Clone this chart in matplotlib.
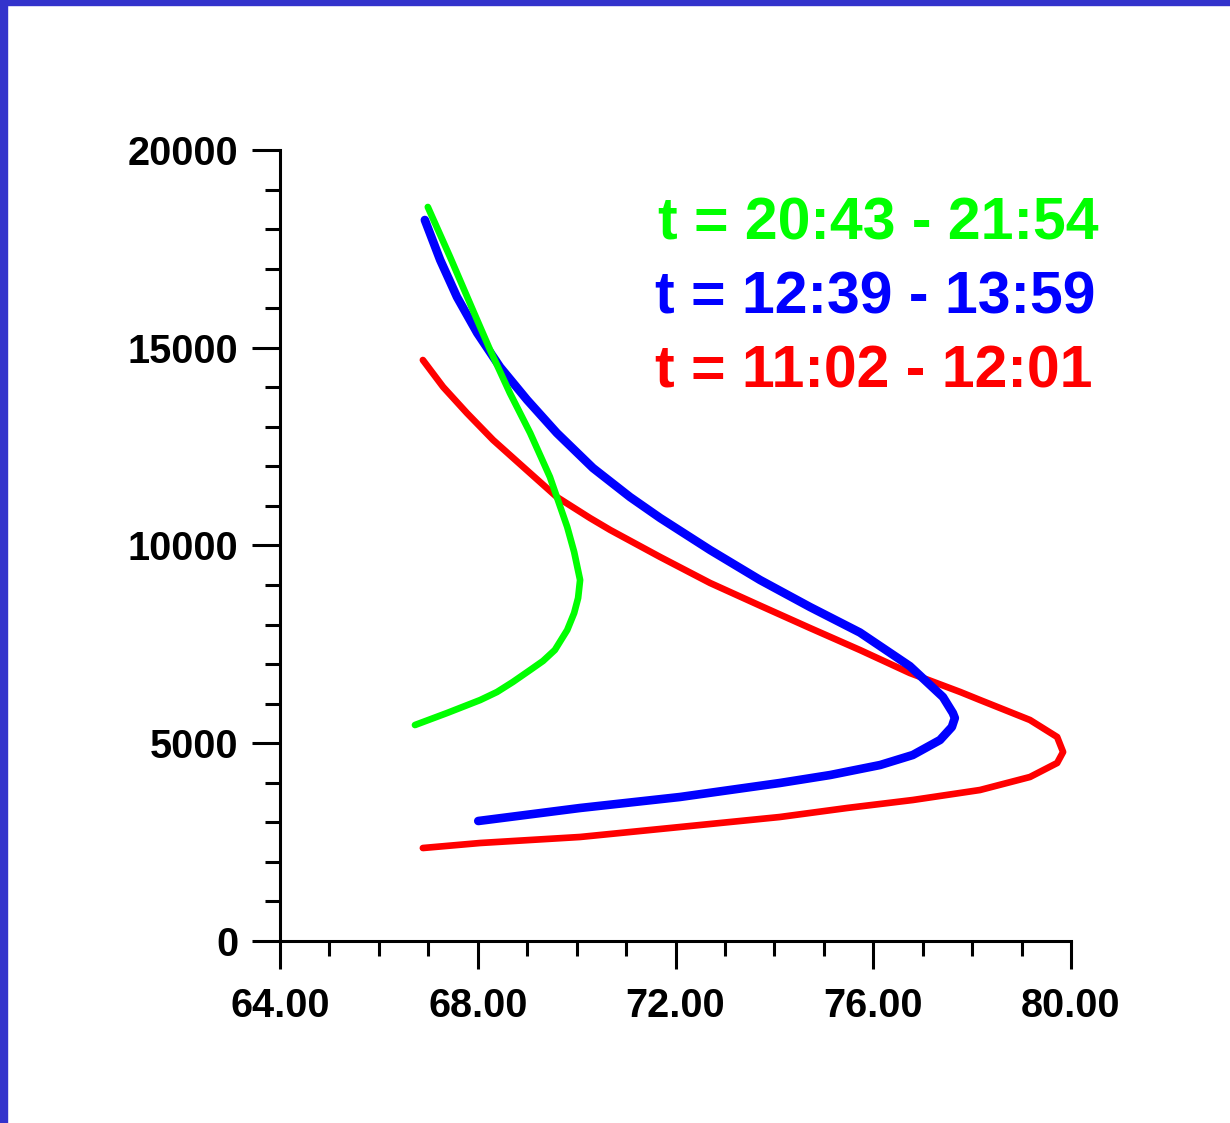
import matplotlib
matplotlib.use("Agg")
import matplotlib.pyplot as plt
from matplotlib.ticker import MultipleLocator, FormatStrFormatter
from matplotlib.patches import Rectangle

# ---- data (x value vs altitude) ----
green_x = [66.99, 67.44, 67.90, 68.25, 68.65, 69.06, 69.46, 69.81, 69.95, 70.07, 70.03, 69.95,
           69.81, 69.56, 69.32, 69.06, 68.71, 68.39, 68.05, 67.38, 66.73]
green_y = [18559, 17295, 15955, 14943, 13856, 12845, 11732, 10468, 9836, 9128, 8672, 8293,
           7863, 7358, 7080, 6852, 6549, 6296, 6093, 5765, 5461]

blue_x = [66.93, 67.24, 67.58, 67.99, 68.45, 69.00, 69.60, 70.33, 71.08, 71.69, 72.70, 73.71,
          74.72, 75.73, 76.74, 77.41, 77.61, 77.65, 77.59, 77.35, 76.80, 76.14, 75.13, 74.11,
          72.09, 70.07, 68.01]
blue_y = [18230, 17219, 16283, 15373, 14513, 13679, 12845, 11960, 11226, 10695, 9886, 9128,
          8445, 7800, 6950, 6169, 5765, 5638, 5411, 5082, 4703, 4450, 4197, 3995,
          3641, 3363, 3034]

red_x = [66.89, 67.30, 67.78, 68.31, 68.92, 69.60, 70.27, 70.68, 71.69, 72.70, 73.71, 74.72,
         75.73, 76.74, 77.76, 78.16, 79.17, 79.72, 79.84, 79.72, 79.17, 78.16, 76.80, 75.47,
         74.11, 72.09, 70.07, 68.05, 66.89]
red_y = [14690, 14008, 13350, 12668, 11985, 11226, 10695, 10392, 9709, 9052, 8480, 7914,
         7358, 6776, 6296, 6093, 5588, 5158, 4779, 4501, 4147, 3818, 3565, 3363,
         3135, 2882, 2630, 2478, 2351]

labels = ["t = 20:43 - 21:54", "t = 12:39 - 13:59", "t = 11:02 - 12:01"]
colors = ["#00FF00", "#0000FF", "#FF0000"]

W, H = 1230, 1123
fig = plt.figure(figsize=(W / 100, H / 100), dpi=100)
fig.patch.set_facecolor("white")

# blue frame on left and top
fig.patches.append(Rectangle((0, 0), 7 / W, 1, transform=fig.transFigure, color="#3333CC", zorder=0))
fig.patches.append(Rectangle((0, 1 - 5 / H), 1, 5 / H, transform=fig.transFigure, color="#3333CC", zorder=0))

ax = fig.add_axes([280 / W, (H - 941) / H, 791 / W, 791 / H])
ax.set_xlim(64, 80)
ax.set_ylim(0, 20000)

kw = dict(solid_capstyle="round", solid_joinstyle="round")
ax.plot(red_x, red_y, color=colors[2], lw=4.8, **kw, zorder=3)
ax.plot(blue_x, blue_y, color=colors[1], lw=6.2, **kw, zorder=4)
ax.plot(green_x, green_y, color=colors[0], lw=4.8, **kw, zorder=5)

for s in ["top", "right"]:
    ax.spines[s].set_visible(False)
for s in ["left", "bottom"]:
    ax.spines[s].set_linewidth(2.2)

ax.xaxis.set_major_locator(MultipleLocator(4))
ax.xaxis.set_minor_locator(MultipleLocator(1))
ax.yaxis.set_major_locator(MultipleLocator(5000))
ax.yaxis.set_minor_locator(MultipleLocator(1000))
ax.xaxis.set_major_formatter(FormatStrFormatter("%.2f"))

ax.tick_params(axis="both", which="major", direction="out", length=20, width=2.2)
ax.tick_params(axis="both", which="minor", direction="out", length=11, width=2.2)
ax.tick_params(axis="x", which="major", pad=13)
ax.tick_params(axis="y", which="major", pad=10)
for lab in ax.get_xticklabels() + ax.get_yticklabels():
    lab.set_fontfamily("Liberation Sans")
    lab.set_fontweight("bold")
    lab.set_fontsize(28.5)

# legend-like text
pos = [(658, 240), (655, 313), (655, 388)]
for (px, py), t, c in zip(pos, labels, colors):
    fig.text(px / W, 1 - py / H, t, color=c, fontsize=42.5, fontweight="bold",
             family="Liberation Sans", ha="left", va="baseline")

fig.savefig("out.png", dpi=100, facecolor="white")
